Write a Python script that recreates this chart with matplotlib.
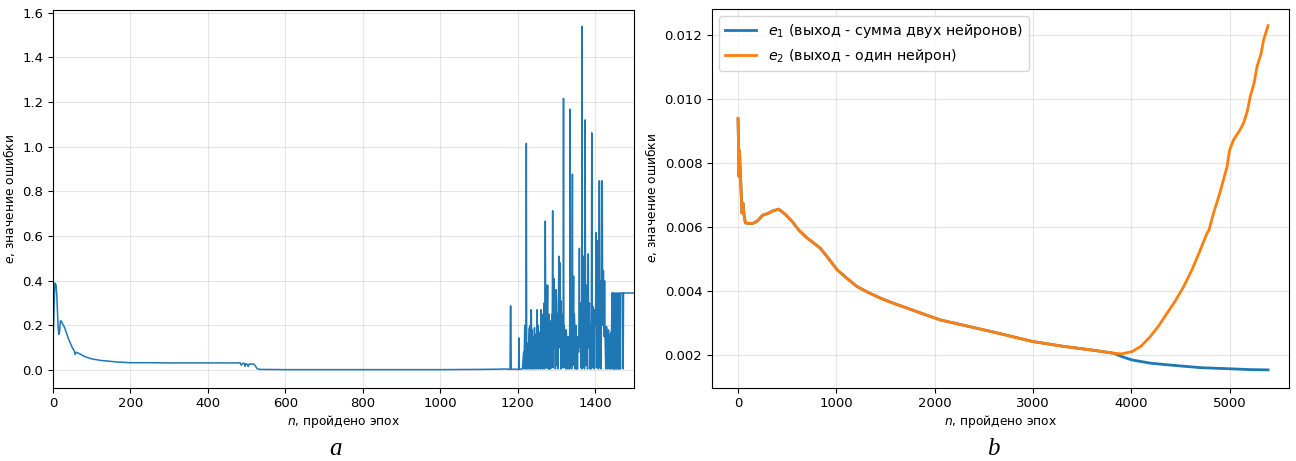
import matplotlib.pyplot as plt
import numpy as np

# --- dane: lewy wykres (a) ---
# poczatek uczenia i spokojny odcinek
ep_a_head = [1, 3, 5, 8, 10, 13, 15, 17, 19, 21, 30, 40, 50, 55, 57, 60, 70, 81, 100, 124,
             167, 200, 253, 300, 400, 478, 482, 484, 486, 490, 494, 496, 498, 500, 504, 506,
             510, 516, 519, 522, 527, 535, 600, 800, 1000, 1100, 1150, 1170,
             1180, 1181, 1182, 1183, 1195, 1202, 1203, 1204, 1212, 1215, 1216, 1218, 1219,
             1221, 1222, 1223]
err_a_head = [0.17, 0.30, 0.39, 0.38, 0.33, 0.20, 0.16, 0.17, 0.22, 0.22, 0.19, 0.14, 0.10,
              0.085, 0.07, 0.08, 0.072, 0.061, 0.050, 0.043, 0.036, 0.033, 0.033, 0.032,
              0.032, 0.032, 0.033, 0.031, 0.022, 0.030, 0.030, 0.017, 0.028, 0.028, 0.016,
              0.027, 0.027, 0.027, 0.026, 0.020, 0.006, 0.003, 0.002, 0.002, 0.002, 0.003,
              0.004, 0.005, 0.003, 0.287, 0.287, 0.004, 0.004, 0.003, 0.144, 0.004, 0.005,
              0.08, 0.005, 0.2, 0.01, 0.005, 1.015, 0.01]

# epoki 1224..1447, co jedna epoka (rozbiegane uczenie)
ep_a_mid = list(range(1224, 1448))
err_a_mid = [
    0.005, 0.12, 0.01, 0.1, 0.005, 0.15, 0.19, 0.02, 0.2, 0.005,
    0.27, 0.27, 0.005, 0.18, 0.02, 0.12, 0.005, 0.15, 0.1, 0.19,
    0.1, 0.005, 0.16, 0.02, 0.15, 0.005, 0.27, 0.01, 0.18, 0.2,
    0.005, 0.17, 0.02, 0.15, 0.1, 0.005, 0.27, 0.02, 0.22, 0.18,
    0.005, 0.25, 0.12, 0.02, 0.3, 0.005, 0.2, 0.667, 0.2, 0.01,
    0.38, 0.01, 0.25, 0.38, 0.1, 0.005, 0.25, 0.005, 0.2, 0.15,
    0.005, 0.22, 0.17, 0.01, 0.25, 0.2, 0.713, 0.01, 0.3, 0.41,
    0.1, 0.25, 0.18, 0.005, 0.3, 0.36, 0.3, 0.02, 0.25, 0.2,
    0.005, 0.3, 0.51, 0.1, 0.25, 0.48, 0.2, 0.005, 0.31, 0.1,
    0.25, 0.2, 0.01, 0.15, 1.216, 0.01, 0.2, 0.17, 0.15, 0.02,
    0.005, 0.18, 0.15, 0.14, 0.02, 0.005, 0.15, 0.12, 0.1, 0.005,
    0.2, 1.168, 0.01, 0.2, 0.15, 0.005, 0.3, 0.877, 0.02, 0.2,
    0.42, 0.1, 0.25, 0.2, 0.005, 0.15, 0.2, 0.1, 0.005, 0.15,
    0.005, 0.12, 0.1, 0.08, 0.2, 0.545, 0.1, 0.25, 0.3, 0.01,
    0.2, 0.005, 1.539, 0.01, 0.25, 0.51, 0.2, 0.1, 0.005, 0.3,
    1.12, 0.02, 0.2, 0.38, 0.2, 0.1, 0.005, 0.3, 0.52, 0.1,
    0.25, 0.3, 0.005, 0.15, 0.2, 0.005, 0.3, 1.062, 0.01, 0.2,
    0.284, 0.27, 0.1, 0.005, 0.2, 0.27, 0.2, 0.3, 0.615, 0.01,
    0.3, 0.58, 0.3, 0.1, 0.005, 0.4, 0.847, 0.847, 0.01, 0.3,
    0.4, 0.005, 0.3, 0.847, 0.847, 0.3, 0.2, 0.445, 0.2, 0.15,
    0.40, 0.18, 0.1, 0.005, 0.15, 0.195, 0.18, 0.1, 0.005, 0.15,
    0.18, 0.17, 0.1, 0.005, 0.15, 0.16, 0.005, 0.17, 0.15, 0.345,
    0.345, 0.005, 0.345, 0.005]

ep_a_tail = [1448, 1450, 1451, 1453, 1454, 1456, 1457, 1459, 1460, 1462, 1463, 1465,
             1466, 1471, 1472, 1473, 1500]
err_a_tail = [0.345, 0.005, 0.345, 0.005, 0.345, 0.005, 0.345, 0.005, 0.345, 0.005,
              0.345, 0.005, 0.345, 0.345, 0.005, 0.345, 0.345]

ep_a = ep_a_head + ep_a_mid + ep_a_tail
err_a = err_a_head + err_a_mid + err_a_tail

# --- dane: prawy wykres (b) ---
ep_b = [0, 5, 10, 15, 20, 25, 30, 40, 50, 60, 74, 100, 150, 200, 250, 300, 350, 413,
        480, 549, 620, 702, 770, 837, 920, 1007, 1100, 1211, 1330, 1448, 1580, 1719,
        1890, 2058, 2300, 2600, 2991, 3300, 3600, 3821]
e_common = [0.00938, 0.0085, 0.00758, 0.0084, 0.0079, 0.0076, 0.0072, 0.00644, 0.00675,
            0.0064, 0.00613, 0.00612, 0.00611, 0.0062, 0.00637, 0.00642, 0.0065, 0.00656,
            0.0064, 0.00618, 0.0059, 0.00566, 0.0055, 0.00534, 0.00502, 0.00467,
            0.00442, 0.00414, 0.00395, 0.00378, 0.00362, 0.00347, 0.00328, 0.0031,
            0.00293, 0.00272, 0.00243, 0.00228, 0.00216, 0.00206]

ep_e1_tail = [3900, 4008, 4194, 4364, 4550, 4703, 4870, 5042, 5200, 5392]
e1_tail = [0.00196, 0.00185, 0.00175, 0.0017, 0.00165, 0.00161, 0.00159, 0.00157,
           0.00155, 0.00154]

ep_e2_tail = [3900, 4008, 4100, 4194, 4280, 4364, 4450, 4533, 4620, 4703, 4770, 4790,
              4838, 4900, 4975, 5000, 5042, 5100, 5143, 5180, 5211, 5250, 5280, 5320,
              5347, 5392]
e2_tail = [0.00204, 0.00211, 0.00228, 0.00258, 0.00292, 0.00331, 0.0037, 0.00414,
           0.00468, 0.00529, 0.0058, 0.0059, 0.00644, 0.00705, 0.00789, 0.0084, 0.00873,
           0.009, 0.00925, 0.0096, 0.01008, 0.0105, 0.01102, 0.0114, 0.01185, 0.01229]

e1_x = ep_b + ep_e1_tail
e1_y = e_common + e1_tail
e2_x = ep_b + ep_e2_tail
e2_y = e_common + e2_tail

W, H = 1296, 461
fig = plt.figure(figsize=(W / 100, H / 100), dpi=100)
ax1 = fig.add_axes([53 / W, (H - 387.5) / H, (634 - 53) / W, (387.5 - 10) / H])
ax2 = fig.add_axes([712 / W, (H - 387.5) / H, (1289 - 712) / W, (387.5 - 9) / H])

ax1.plot(ep_a, err_a, color='#1f77b4', linewidth=1.1)
ax1.set_xlim(0, 1500)
ax1.set_ylim(-0.078, 1.612)
ax1.set_xticks(np.arange(0, 1401, 200))
ax1.set_yticks(np.arange(0, 1.61, 0.2))
ax1.yaxis.set_major_formatter(plt.FormatStrFormatter('%.1f'))

ax2.plot(e1_x, e1_y, color='#1f77b4', linewidth=2.0,
         label='$e_1$ (выход - сумма двух нейронов)')
ax2.plot(e2_x, e2_y, color='#ff7f0e', linewidth=2.0,
         label='$e_2$ (выход - один нейрон)')
ax2.set_xlim(-265, 5605)
ax2.set_ylim(0.00099, 0.01281)
ax2.set_xticks(np.arange(0, 5001, 1000))
ax2.set_yticks(np.arange(0.002, 0.0121, 0.002))
ax2.yaxis.set_major_formatter(plt.FormatStrFormatter('%.3f'))
ax2.legend(loc='upper left', fontsize=10.3, handlelength=2.2)

for ax in (ax1, ax2):
    ax.grid(True, color='#cccccc', alpha=0.5, linewidth=0.8)
    ax.tick_params(labelsize=9.5)
    ax.set_xlabel('$n$, пройдено эпох', fontsize=8.8, labelpad=2)
    ax.set_ylabel('$e$, значение ошибки', fontsize=8.8, labelpad=4)

fig.text(336 / W, 1 - 449 / H, 'a', family='Liberation Serif', style='italic',
         fontsize=18, ha='center', va='center')
fig.text(993 / W, 1 - 449 / H, 'b', family='Liberation Serif', style='italic',
         fontsize=18, ha='center', va='center')

fig.savefig('out.png', dpi=100)
